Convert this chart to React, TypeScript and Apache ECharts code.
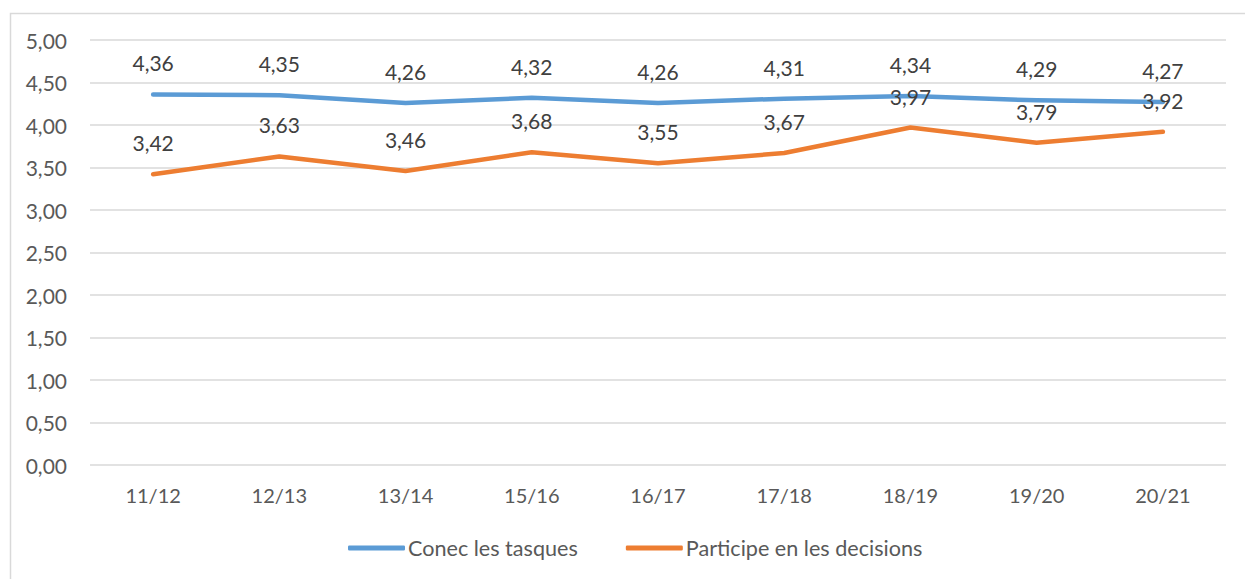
import React, { useEffect, useRef } from "react";
import * as echarts from "echarts";

const categories = ["11/12", "12/13", "13/14", "15/16", "16/17", "17/18", "18/19", "19/20", "20/21"];
const conecValues = [4.36, 4.35, 4.26, 4.32, 4.26, 4.31, 4.34, 4.29, 4.27];
const participeValues = [3.42, 3.63, 3.46, 3.68, 3.55, 3.67, 3.97, 3.79, 3.92];
const seriesNames = ["Conec les tasques", "Participe en les decisions"];

const fmt = (v: number) => v.toFixed(2).replace(".", ",");
const FONT = "Lato, 'Open Sans', sans-serif";

export default function App() {
  const ref = useRef<HTMLDivElement>(null);
  useEffect(() => {
    if (!ref.current) return;
    const chart = echarts.init(ref.current, undefined, { renderer: "svg" });
    const labelCfg = {
      show: true,
      position: "top" as const,
      distance: 21,
      color: "#404040",
      fontSize: 21,
      fontFamily: FONT,
      formatter: (p: any) => fmt(p.value),
    };
    chart.setOption({
      animation: false,
      backgroundColor: "#ffffff",
      textStyle: { fontFamily: FONT },
      graphic: [
        {
          type: "rect",
          left: 8,
          top: 11,
          shape: { x: 0, y: 0, width: 1260, height: 620 },
          style: { fill: "none", stroke: "#d9d9d9", lineWidth: 1.5 },
          silent: true,
          z: -1,
        },
      ],
      grid: { left: 90, right: 19, top: 40, bottom: 114 },
      legend: {
        top: 532,
        left: 343,
        itemWidth: 57,
        itemHeight: 5,
        itemGap: 48,
        icon: "roundRect",
        textStyle: { color: "#595959", fontSize: 21.6, fontFamily: FONT, padding: [0, 0, 0, -2] },
        data: seriesNames,
      },
      xAxis: {
        type: "category",
        data: categories,
        boundaryGap: true,
        axisLine: { show: false },
        axisTick: { show: false },
        axisLabel: { color: "#595959", fontSize: 20, fontFamily: FONT, margin: 20 },
      },
      yAxis: {
        type: "value",
        min: 0,
        max: 5,
        interval: 0.5,
        axisLine: { show: false },
        axisTick: { show: false },
        axisLabel: { color: "#595959", fontSize: 21, fontFamily: FONT, margin: 23, formatter: (v: number) => fmt(v) },
        splitLine: { lineStyle: { color: "#d9d9d9", width: 1.5 } },
      },
      series: [
        {
          name: seriesNames[0],
          type: "line",
          data: conecValues,
          symbol: "circle",
          symbolSize: 0,
          showSymbol: true,
          lineStyle: { color: "#5B9BD5", width: 4.5, cap: "round", join: "round" },
          itemStyle: { color: "#5B9BD5" },
          label: labelCfg,
        },
        {
          name: seriesNames[1],
          type: "line",
          data: participeValues,
          symbol: "circle",
          symbolSize: 0,
          showSymbol: true,
          lineStyle: { color: "#ED7D31", width: 4.5, cap: "round", join: "round" },
          itemStyle: { color: "#ED7D31" },
          label: labelCfg,
          z: 3,
        },
      ],
    });
    return () => chart.dispose();
  }, []);
  return <div ref={ref} style={{ position: "fixed", left: 0, top: 0, width: 1245, height: 579 }} />;
}
